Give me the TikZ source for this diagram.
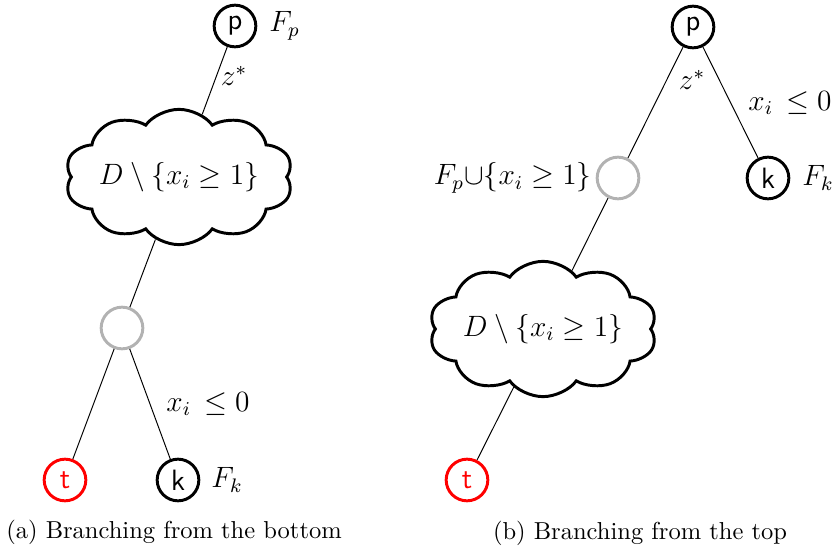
\documentclass[tikz,border=0pt]{standalone}
\usetikzlibrary{shapes.symbols}
\begin{document}
\begin{tikzpicture}[x=0.408pt,y=-0.408pt,
  tnode/.style={circle,draw,line width=1.2pt,minimum size=17pt,inner sep=0pt,font=\sffamily\large},
  gnode/.style={tnode,draw=black!30},
  rnode/.style={tnode,draw=red,text=red},
  dcloud/.style={cloud,draw,line width=1.2pt,cloud puffs=10,cloud puff arc=120,aspect=1.62,inner sep=0pt,font=\large,xscale=0.95,yscale=0.78},
  lbl/.style={inner sep=0pt,font=\large},
  edge/.style={line width=0.4pt}
]
\useasboundingbox (0,0) rectangle (833,551);
% (a)
\node[tnode] (pa) at (235,26) {p};
\node[dcloud] (ca) at (179,177) {\phantom{$D\setminus\{x_i\geq 1\}$}};
\node[lbl] (cta) at (179,177) {$D\setminus\{x_i\geq 1\}$};
\node[gnode] (ga) at (122,328) {};
\node[rnode] (ta) at (65,480) {t};
\node[tnode] (ka) at (178,480) {k};
\draw[edge] (pa) -- (ca);
\draw[edge] (ca) -- (ga);
\draw[edge] (ga) -- (ta);
\draw[edge] (ga) -- (ka);
\node[lbl,anchor=west] (fpa) at (269,26) {$F_p$};
\node[lbl] (za) at (234,76) {$z^*$};
\node[lbl] (xa) at (208,404) {$x_i\,\leq 0$};
\node[lbl,anchor=west] (fka) at (211,480) {$F_k$};
\node[inner sep=0pt] (capa) at (174,532) {(a) Branching from the bottom};
% (b)
\node[tnode] (pb) at (693,27) {p};
\node[gnode] (gb) at (618,178) {};
\node[tnode] (kb) at (768,178) {k};
\node[dcloud] (cb) at (543,329) {\phantom{$D\setminus\{x_i\geq 1\}$}};
\node[lbl] (ctb) at (543,329) {$D\setminus\{x_i\geq 1\}$};
\node[rnode] (tb) at (467,480) {t};
\draw[edge] (pb) -- (gb);
\draw[edge] (pb) -- (kb);
\draw[edge] (gb) -- (cb);
\draw[edge] (cb) -- (tb);
\node[lbl,anchor=east] (fub) at (592,178) {$F_p{\cup}\{x_i\geq 1\}$};
\node[lbl] (zb) at (692,80) {$z^*$};
\node[lbl] (xb) at (790,103) {$x_i\,\leq 0$};
\node[lbl,anchor=west] (fkb) at (802,178) {$F_k$};
\node[inner sep=0pt] (capb) at (640,533) {(b) Branching from the top};
\end{tikzpicture}
\end{document}
